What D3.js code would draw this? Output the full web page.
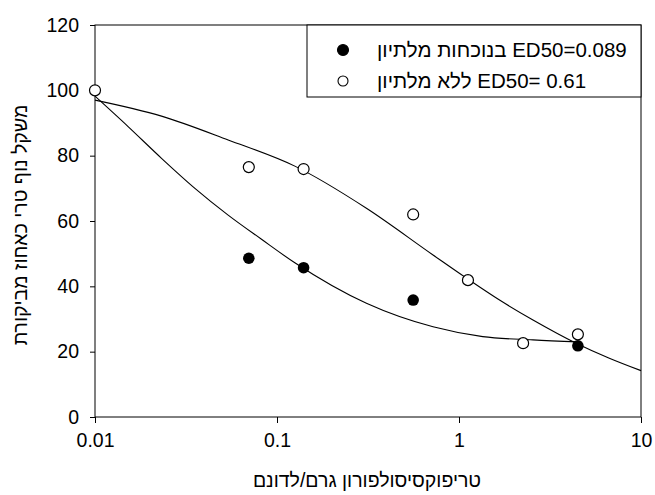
<!DOCTYPE html>
<html>
<head>
<meta charset="utf-8">
<script src="https://cdn.jsdelivr.net/npm/d3@7"></script>
<style>
  body { margin: 0; background: #fff; }
  svg text { font-family: "Liberation Sans", Arial, sans-serif; fill: #000; }
</style>
</head>
<body>
<div id="graphicContainer"></div>
<script>

// measured points (open = without maltion, filled = with maltion)
const openDoses = [0.01, 0.07, 0.14, 0.56, 1.12, 2.25, 4.5]
const openValues = [100, 76.5, 75.9, 62, 41.9, 22.6, 25.3]
const filledDoses = [0.07, 0.14, 0.56, 4.5]
const filledValues = [48.6, 45.7, 35.8, 21.8]

// fitted curves
const openCurveDoses = [0.01, 0.0232, 0.0539, 0.1253, 0.31, 0.72, 1.1, 1.67, 2.55, 4.4, 6.7, 10]
const openCurveValues = [97.0, 92.1, 84.8, 76.8, 63.9, 49.6, 42.5, 35.8, 29.7, 22.6, 18.0, 14.2]
const filledCurveDoses = [0.01, 0.0152, 0.0232, 0.0354, 0.0539, 0.0822, 0.1253, 0.31, 0.72, 1.35, 2.55, 4.5]
const filledCurveValues = [98.2, 88.9, 79.2, 70.0, 61.8, 54.4, 47.2, 34.8, 27.6, 24.6, 23.6, 23.0]

const xTickValues = [0.01, 0.1, 1, 10]
const yTickValues = [0, 20, 40, 60, 80, 100, 120]

const legendNames = ["בנוכחות מלתיון", "ללא מלתיון"]
const legendEd50 = ["ED50=0.089", "ED50= 0.61"]

const xAxisLabel = "טריפוקסיסולפורון גרם/לדונם"
const yAxisLabel = "משקל נוף טרי כאחוז מביקורת"

const svgWidth = 655
const svgHeight = 495
const marginleft = 95
const margintop = 25
const plotRight = 641
const plotBottom = 417
const fontSize = 19.5

const svg = d3.select("#graphicContainer")
  .append("svg")
  .attr("width", svgWidth)
  .attr("height", svgHeight)

const x = d3.scaleLog()
  .domain([0.01, 10])
  .range([marginleft, plotRight])

const y = d3.scaleLinear()
  .domain([0, 120])
  .range([plotBottom, margintop])

// frame
svg.append("rect")
  .attr("x", marginleft)
  .attr("y", margintop)
  .attr("width", plotRight - marginleft)
  .attr("height", plotBottom - margintop)
  .attr("fill", "none")
  .attr("stroke", "#000")
  .attr("stroke-width", 1)

svg.append("g")
  .attr("transform", `translate(0,${plotBottom})`)
  .call(d3.axisBottom(x)
    .tickValues(xTickValues)
    .tickFormat(d => d3.format("~g")(d))
    .tickSizeOuter(0)
    .tickSize(6)
    .tickPadding(10))

svg.append("g")
  .attr("transform", `translate(${marginleft},0)`)
  .call(d3.axisLeft(y)
    .tickValues(yTickValues)
    .tickSizeOuter(0)
    .tickSize(5)
    .tickPadding(11))

svg.selectAll(".domain").remove()
svg.selectAll(".tick line").attr("stroke", "#000")
svg.selectAll(".tick text")
  .style("font-size", fontSize + "px")
  .style("font-family", '"Liberation Sans", Arial, sans-serif')
  .attr("fill", "#000")

// curves
const line = d3.line()
  .x(d => x(d[0]))
  .y(d => y(d[1]))
  .curve(d3.curveMonotoneX)

svg.append("path")
  .datum(openCurveDoses.map((d, i) => [d, openCurveValues[i]]))
  .attr("d", line)
  .attr("fill", "none")
  .attr("stroke", "#000")
  .attr("stroke-width", 1.1)

svg.append("path")
  .datum(filledCurveDoses.map((d, i) => [d, filledCurveValues[i]]))
  .attr("d", line)
  .attr("fill", "none")
  .attr("stroke", "#000")
  .attr("stroke-width", 1.1)

// points
svg.selectAll(".filledDot")
  .data(filledDoses.map((d, i) => [d, filledValues[i]]))
  .enter()
  .append("circle")
  .attr("class", "filledDot")
  .attr("cx", d => x(d[0]))
  .attr("cy", d => y(d[1]))
  .attr("r", 5.8)
  .attr("fill", "#000")

svg.selectAll(".openDot")
  .data(openDoses.map((d, i) => [d, openValues[i]]))
  .enter()
  .append("circle")
  .attr("class", "openDot")
  .attr("cx", d => x(d[0]))
  .attr("cy", d => y(d[1]))
  .attr("r", 5.5)
  .attr("fill", "#fff")
  .attr("stroke", "#000")
  .attr("stroke-width", 1.2)

// legend
svg.append("rect")
  .attr("x", 307)
  .attr("y", margintop)
  .attr("width", plotRight - 307)
  .attr("height", 72)
  .attr("fill", "#fff")
  .attr("stroke", "#000")
  .attr("stroke-width", 1)

legendNames.forEach((name, i) => {
  const ly = 50 + i * 31
  svg.append("circle")
    .attr("cx", 343)
    .attr("cy", ly)
    .attr("r", i == 0 ? 5.5 : 5)
    .attr("fill", i == 0 ? "#000" : "#fff")
    .attr("stroke", "#000")
    .attr("stroke-width", 1.1)

  svg.append("text")
    .attr("x", 377)
    .attr("y", ly + 7)
    .attr("text-anchor", "start")
    .style("font-size", "20.5px")
    .text(name + " " + legendEd50[i])
})

// axis labels
svg.append("text")
  .attr("x", 367)
  .attr("y", 487)
  .attr("text-anchor", "middle")
  .style("font-size", fontSize + "px")
  .text(xAxisLabel)

svg.append("text")
  .attr("transform", "translate(27,225) rotate(-90)")
  .attr("text-anchor", "middle")
  .style("font-size", fontSize + "px")
  .text(yAxisLabel)

</script>
</body>
</html>
